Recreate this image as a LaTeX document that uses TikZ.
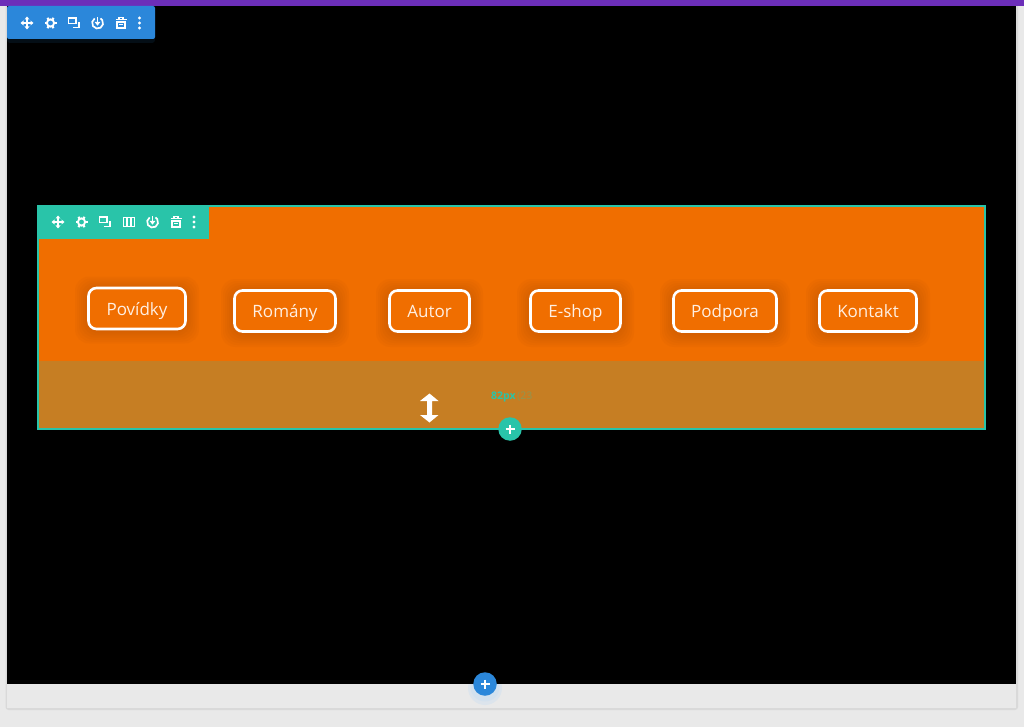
\documentclass[tikz,border=0pt]{standalone}
\usepackage{fontspec}
\setmainfont{Open Sans}
\definecolor{pagegray}{HTML}{E9E9E9}
\definecolor{purplebar}{HTML}{6C2EB9}
\definecolor{bluebar}{HTML}{2B87DA}
\definecolor{tealbar}{HTML}{29C4A9}
\definecolor{orangerow}{HTML}{F06E00}
\definecolor{tanrow}{HTML}{C67E23}
\definecolor{btnshadow}{HTML}{B85400}
\definecolor{btntext}{HTML}{FFEFE2}
\tikzset{
  x=1pt,y=-1pt,
  menubtn/.style={draw=white,line width=2.6pt,rounded corners=8pt,fill=orangerow,text=btntext,
    font=\fontsize{17}{20}\selectfont,anchor=center,inner sep=0pt,text height=15pt,text depth=2pt},
  icon/.style={white,line width=1.7pt},
  pics/imove/.style={code={
    \draw[icon] (-5,0)--(5,0) (0,-5)--(0,5);
    \fill[white] (-6.5,0)--(-3.5,-2.5)--(-3.5,2.5)--cycle (6.5,0)--(3.5,-2.5)--(3.5,2.5)--cycle
      (0,-6.5)--(-2.5,-3.5)--(2.5,-3.5)--cycle (0,6.5)--(-2.5,3.5)--(2.5,3.5)--cycle;}},
  pics/igear/.style={code={
    \draw[white,line width=1.9pt] (0,0) circle (3.6);
    \foreach \a in {0,60,...,300}{\draw[white,line width=2.2pt] (\a:3.8)--(\a:6);}}},
  pics/idup/.style={code={
    \draw[icon] (-5.5,-5) rectangle (2,0.5);
    \draw[icon] (5,-1)--(5,4.5)--(-1,4.5);}},
  pics/icols/.style={code={
    \draw[icon] (-5.5,-4.5) rectangle (5.5,4.5) (-1.8,-4.5)--(-1.8,4.5) (1.8,-4.5)--(1.8,4.5);}},
  pics/ipower/.style={code={
    \draw[icon] (-2.8,-4.6) arc[start angle=238,end angle=-58,radius=5.5];
    \draw[icon] (0,-6)--(0,0);
    \fill[white] (0,2.6)--(-2.9,-1)--(2.9,-1)--cycle;}},
  pics/itrash/.style={code={
    \draw[icon] (-5.5,-3.4)--(5.5,-3.4) (-2,-4)--(-2,-5.5)--(2,-5.5)--(2,-4);
    \draw[icon] (-4.2,-1)--(-4.2,5)--(4.2,5)--(4.2,-1)--cycle;
    \draw[white,line width=1.4pt] (-2,1.6)--(2,1.6);}},
  pics/idots/.style={code={
    \fill[white] (0,-5) circle (1.7) (0,0) circle (1.7) (0,5) circle (1.7);}},
}
\begin{document}
\begin{tikzpicture}
\useasboundingbox (0,0) rectangle (1024,727);
\fill[pagegray] (0,0) rectangle (1024,727);
% page shadow and frame
\fill[black!15,rounded corners=3pt] (5.5,0) rectangle (1018,710);
\fill[black] (7,0) rectangle (1016,684);
\fill[pagegray] (7,684) rectangle (1016,707.5);
\fill[purplebar] (0,0) rectangle (1024,6);
% blue toolbar
\fill[black!70!bluebar,opacity=.35,rounded corners=3pt] (7,8) rectangle (155,43);
\fill[bluebar,rounded corners=2pt] (7,6) rectangle (155,39);
\pic at (27,23) {imove};
\pic at (50.5,23) {igear};
\pic at (74,23) {idup};
\pic at (97.5,23) {ipower};
\pic at (121,23) {itrash};
\pic at (139.5,23) {idots};
% section
\fill[orangerow] (38,206) rectangle (985,361);
\fill[tanrow] (38,361) rectangle (985,429);
\draw[tealbar,line width=2pt] (38,206) rectangle (985,429);
\fill[tealbar] (37,205) rectangle (209,239);
\pic at (58,222) {imove};
\pic at (81.5,222) {igear};
\pic at (105,222) {idup};
\pic at (129,222) {icols};
\pic at (152.5,222) {ipower};
\pic at (176,222) {itrash};
\pic at (194,222) {idots};
% button shadows
\foreach \cx/\cy/\w/\h in {137/310/98/41,285/313/102/42,429.5/313/81/42,575.5/313/91/42,725/313/104/42,868/313/98/42}{
  \foreach \g in {13,11,9,7,5,3,1}{
    \fill[btnshadow,opacity=.08,rounded corners=14pt]
      (\cx-\w/2-\g,\cy-\h/2-\g) rectangle (\cx+\w/2+\g,\cy+\h/2+\g);
  }
}
% buttons
\node[menubtn,minimum width=97pt,minimum height=41pt] (povidky) at (137,308.5) {Povídky};
\node[menubtn,minimum width=101pt,minimum height=41pt] (romany) at (285,311) {Romány};
\node[menubtn,minimum width=80pt,minimum height=41pt] (autor) at (429.5,311) {Autor};
\node[menubtn,minimum width=90pt,minimum height=41pt] (eshop) at (575.5,311) {E-shop};
\node[menubtn,minimum width=103pt,minimum height=41pt] (podpora) at (725,311) {Podpora};
\node[menubtn,minimum width=97pt,minimum height=41pt] (kontakt) at (868,311) {Kontakt};
% resize cursor
\fill[white] (429.5,393.5)--(438.5,401)--(432,401)--(432,415)--(438.5,415)--(429.5,422.5)--(420,415)--(427,415)--(427,401)--(420,401)--cycle;
% size label
\node[anchor=west,inner sep=0pt,text=tealbar,font=\fontsize{10.5}{12}\selectfont\bfseries] (size) at (491,396.5) {82px};
\node[anchor=west,inner sep=0pt,text=tealbar!35!tanrow,font=\fontsize{10.5}{12}\selectfont] (rest) at (517,396.5) {(23};
% plus buttons
\node[circle,fill=tealbar,minimum size=23.5pt,inner sep=0pt] (addrow) at (510,429) {};
\draw[white,line width=1.8pt] (505.5,429)--(514.5,429) (510,424.5)--(510,433.5);
\begin{scope}
\clip (7,684) rectangle (1016,707);
\fill[bluebar!30,opacity=.3] (485,688) circle (17);
\fill[bluebar!30,opacity=.3] (485,687) circle (14.5);
\end{scope}
\node[circle,fill=bluebar,minimum size=23.5pt,inner sep=0pt] (addsec) at (485,684) {};
\draw[white,line width=1.8pt] (480.5,684)--(489.5,684) (485,679.5)--(485,688.5);
\end{tikzpicture}
\end{document}
